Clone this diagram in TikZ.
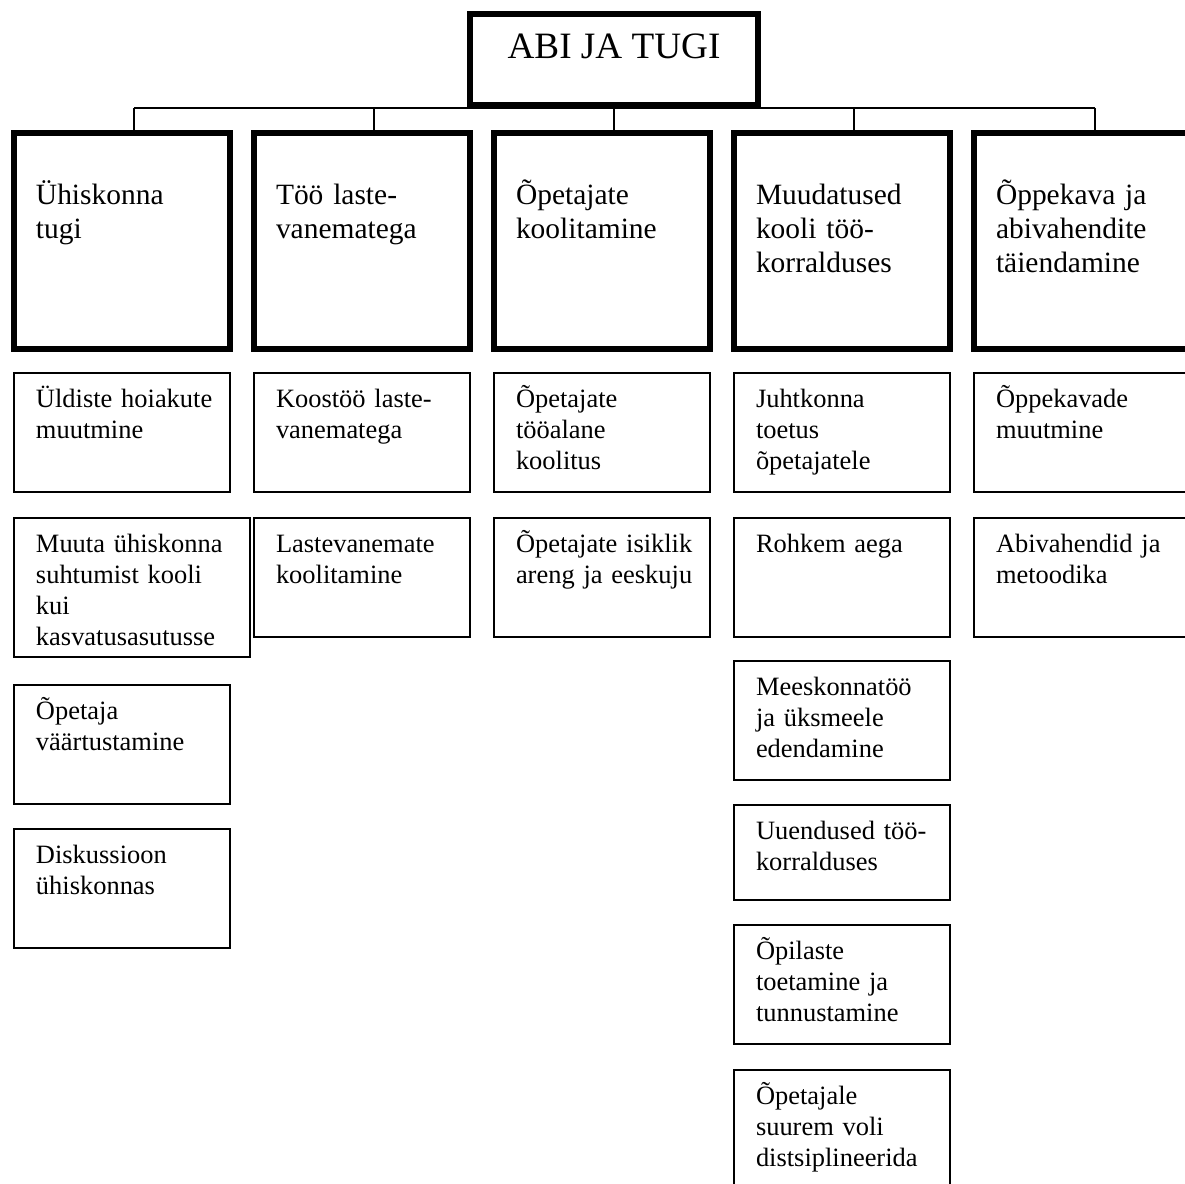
\documentclass[tikz,border=0pt]{standalone}
\usepackage{fontspec}
\setmainfont{Liberation Serif}
\usetikzlibrary{fit}
\tikzset{
  thickbox/.style={draw=black, line width=2.79pt, inner sep=0pt, outer sep=0pt},
  thinbox/.style={draw=black, line width=0.93pt, inner sep=0pt, outer sep=0pt},
  conn/.style={draw=black, line width=0.93pt},
  bodytxt/.style={inner sep=0pt, outer sep=0pt, anchor=base west, align=left, text width=150pt, font=\fontsize{12.3pt}{14.4pt}\selectfont},
  headtxt/.style={inner sep=0pt, outer sep=0pt, anchor=base west, align=left, text width=150pt, font=\fontsize{13.7pt}{15.8pt}\selectfont},
  titletxt/.style={inner sep=0pt, outer sep=0pt, anchor=base, font=\fontsize{17.3pt}{20pt}\selectfont}
}
\newcommand\thinB[6]{%
  \node[thinbox, fit={(#2,#3) (#4,#5)}] (#1) {};
  \node[bodytxt] (#1t) at ([shift={(22,35)}]#1.north west) {#6};}
\newcommand\headB[4]{%
  \node[thickbox, fit={(#2,133) (#3,349)}] (#1) {};
  \node[headtxt] (#1t) at ([shift={(22,72)}]#1.north west) {#4};}
\begin{document}
\begin{tikzpicture}[x=0.4651pt,y=-0.4651pt]
\useasboundingbox (0,0) rectangle (1185,1184);
\clip (0,0) rectangle (1185,1184);
\fill[white] (0,0) rectangle (1185,1184);

% connectors
\coordinate (j1) at (134,108);
\coordinate (j2) at (374,108);
\coordinate (j3) at (614,108);
\coordinate (j4) at (854,108);
\coordinate (j5) at (1095,108);
\draw[conn] (j1) -- (j5);

% title
\node[thickbox, fit={(470,14) (758,105)}] (top) {};
\node[titletxt] (toptxt) at ([shift={(0,45)}]top.north) {ABI JA TUGI};

% head boxes
\headB{c1}{14}{230}{Ühiskonna\\tugi}
\headB{c2}{254}{470}{Töö laste-\\vanematega}
\headB{c3}{494}{710}{Õpetajate\\koolitamine}
\headB{c4}{734}{950}{Muudatused\\kooli töö-\\korralduses}
\headB{c5}{974}{1191}{Õppekava ja\\abivahendite\\täiendamine}

\foreach \i in {1,...,5} {\draw[conn] (j\i) -- (j\i |- c\i.north);}

% column 1
\thinB{a1}{14}{373}{230}{492}{Üldiste hoiakute\\muutmine}
\thinB{a2}{14}{518}{250}{657}{Muuta ühiskonna\\suhtumist kooli\\kui\\kasvatusasutusse}
\thinB{a3}{14}{685}{230}{804}{Õpetaja\\väärtustamine}
\thinB{a4}{14}{829}{230}{948}{Diskussioon\\ühiskonnas}

% column 2
\thinB{b1}{254}{373}{470}{492}{Koostöö laste-\\vanematega}
\thinB{b2}{254}{518}{470}{637}{Lastevanemate\\koolitamine}

% column 3
\thinB{d1}{494}{373}{710}{492}{Õpetajate\\tööalane\\koolitus}
\thinB{d2}{494}{518}{710}{637}{Õpetajate isiklik\\areng ja eeskuju}

% column 4
\thinB{e1}{734}{373}{950}{492}{Juhtkonna\\toetus\\õpetajatele}
\thinB{e2}{734}{518}{950}{637}{Rohkem aega}
\thinB{e3}{734}{661}{950}{780}{Meeskonnatöö\\ja üksmeele\\edendamine}
\thinB{e4}{734}{805}{950}{900}{Uuendused töö-\\korralduses}
\thinB{e5}{734}{925}{950}{1044}{Õpilaste\\toetamine ja\\tunnustamine}
\thinB{e6}{734}{1070}{950}{1190}{Õpetajale\\suurem voli\\distsiplineerida}

% column 5
\thinB{f1}{974}{373}{1190}{492}{Õppekavade\\muutmine}
\thinB{f2}{974}{518}{1190}{637}{Abivahendid ja\\metoodika}
\end{tikzpicture}
\end{document}
